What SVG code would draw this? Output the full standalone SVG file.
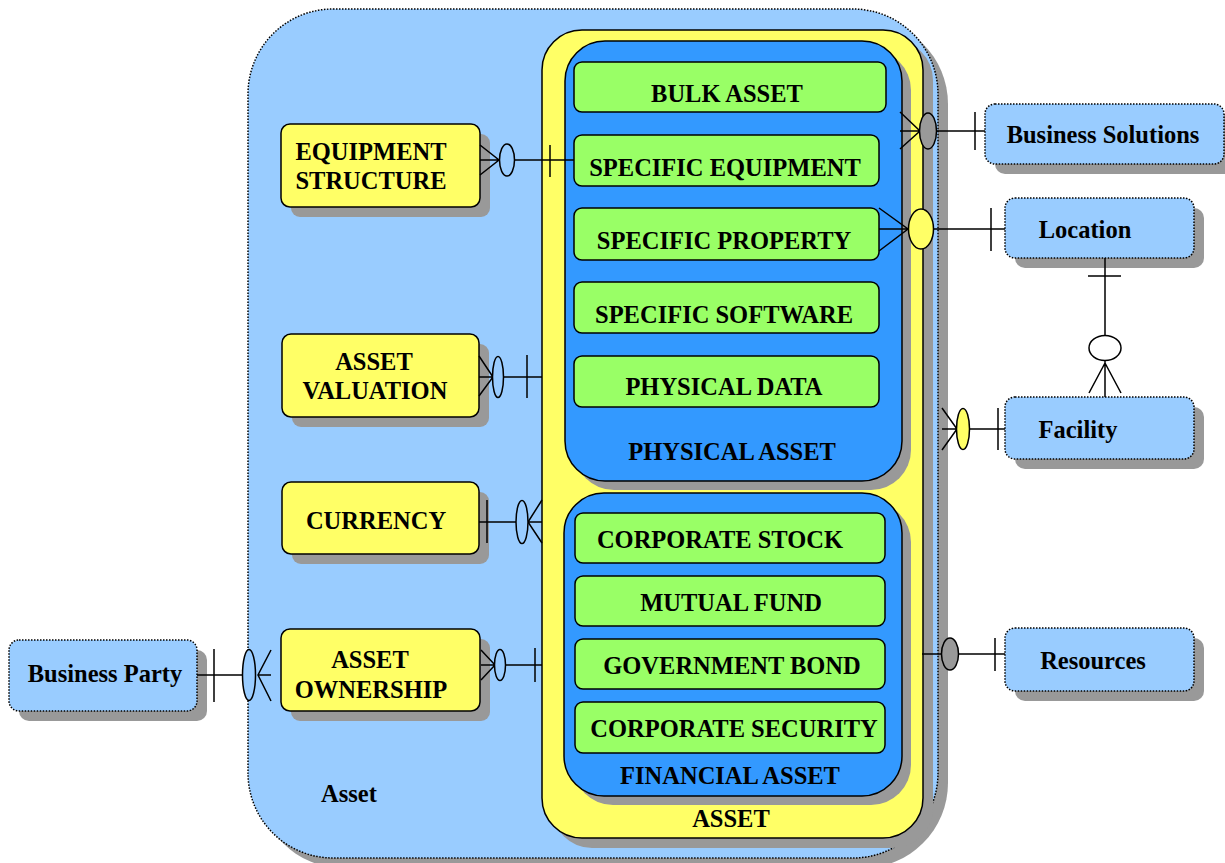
<svg xmlns="http://www.w3.org/2000/svg" width="1225" height="863" viewBox="0 0 1225 863">
<style>
text{font-family:"Liberation Serif","Times New Roman",serif;font-weight:bold;font-size:24.5px;fill:#000;text-anchor:middle}
.shadow{fill:#999999;stroke:none}
.ext{fill:#99CCFF;stroke:#000;stroke-width:1.5;stroke-dasharray:1.5 1.5}
.yel{fill:#FFFF66;stroke:#000;stroke-width:1.5}
.blu{fill:#3399FF;stroke:#000;stroke-width:1.5}
.grn{fill:#99FF66;stroke:#000;stroke-width:1.5}
.ln{fill:none;stroke:#000;stroke-width:1.5}
.oe{fill:#99CCFF;stroke:#000;stroke-width:1.5}
.ge{fill:#999999;stroke:#000;stroke-width:1.5}
.ye{fill:#FFFF66;stroke:#000;stroke-width:1.5}
.we{fill:#FFFFFF;stroke:#000;stroke-width:1.5}
</style>
<rect width="1225" height="863" fill="#FFFFFF"/>

<g id="asset-outer">
<rect class="shadow" x="258" y="19" width="690" height="849" rx="85"/>
<rect class="ext" x="248" y="9" width="690" height="849" rx="85"/>
<text x="349" y="802">Asset</text>
</g>

<g id="asset">
<rect class="shadow" x="552" y="40" width="381" height="808" rx="40"/>
<rect class="yel" x="542" y="30" width="381" height="808" rx="40"/>
<text x="731" y="827">ASSET</text>
</g>

<g id="physical-asset">
<rect class="shadow" x="574" y="50" width="337" height="440" rx="40"/>
<rect class="blu" x="565" y="41" width="337" height="440" rx="40"/>
<text x="732" y="460">PHYSICAL ASSET</text>
</g>

<g id="financial-asset">
<rect class="shadow" x="573" y="502" width="338" height="303" rx="40"/>
<rect class="blu" x="564" y="493" width="338" height="303" rx="40"/>
<text x="730" y="784">FINANCIAL ASSET</text>
</g>

<g id="bulk-asset"><rect class="grn" x="574" y="62" width="312" height="50" rx="8"/><text x="727" y="102">BULK ASSET</text></g>
<g id="specific-equipment"><rect class="grn" x="574" y="135" width="305" height="51" rx="8"/><text x="725" y="176">SPECIFIC EQUIPMENT</text></g>
<g id="specific-property"><rect class="grn" x="574" y="208" width="305" height="52" rx="8"/><text x="724" y="249">SPECIFIC PROPERTY</text></g>
<g id="specific-software"><rect class="grn" x="574" y="282" width="305" height="51" rx="8"/><text x="724" y="323">SPECIFIC SOFTWARE</text></g>
<g id="physical-data"><rect class="grn" x="574" y="356" width="305" height="51" rx="8"/><text x="724" y="395">PHYSICAL DATA</text></g>

<g id="corporate-stock"><rect class="grn" x="575" y="513" width="310" height="50" rx="8"/><text x="720" y="548">CORPORATE STOCK</text></g>
<g id="mutual-fund"><rect class="grn" x="575" y="576" width="310" height="50" rx="8"/><text x="731" y="611">MUTUAL FUND</text></g>
<g id="government-bond"><rect class="grn" x="575" y="639" width="310" height="50" rx="8"/><text x="732" y="674">GOVERNMENT BOND</text></g>
<g id="corporate-security"><rect class="grn" x="575" y="702" width="310" height="51" rx="8"/><text x="734" y="737">CORPORATE SECURITY</text></g>

<g id="equipment-structure">
<rect class="shadow" x="291" y="134" width="199" height="83" rx="9"/>
<rect class="yel" x="281" y="124" width="199" height="83" rx="9"/>
<text x="371" y="160">EQUIPMENT</text><text x="371" y="189">STRUCTURE</text>
</g>
<g id="asset-valuation">
<rect class="shadow" x="292" y="344" width="197" height="83" rx="9"/>
<rect class="yel" x="282" y="334" width="197" height="83" rx="9"/>
<text x="374" y="370">ASSET</text><text x="375" y="399">VALUATION</text>
</g>
<g id="currency">
<rect class="shadow" x="292" y="492" width="197" height="72" rx="9"/>
<rect class="yel" x="282" y="482" width="197" height="72" rx="9"/>
<text x="376" y="529">CURRENCY</text>
</g>
<g id="asset-ownership">
<rect class="shadow" x="291" y="639" width="199" height="82" rx="9"/>
<rect class="yel" x="281" y="629" width="199" height="82" rx="9"/>
<text x="370" y="668">ASSET</text><text x="371" y="698">OWNERSHIP</text>
</g>

<g id="business-party">
<rect class="shadow" x="19" y="650" width="188" height="71" rx="10"/>
<rect class="ext" x="9" y="640" width="188" height="71" rx="10"/>
<text x="105" y="682">Business Party</text>
</g>
<g id="business-solutions">
<rect class="shadow" x="995" y="114" width="239" height="60" rx="10"/>
<rect class="ext" x="985" y="104" width="239" height="60" rx="10"/>
<text x="1103" y="143">Business Solutions</text>
</g>
<g id="location">
<rect class="shadow" x="1015" y="208" width="189" height="60" rx="10"/>
<rect class="ext" x="1005" y="198" width="189" height="60" rx="10"/>
<text x="1085" y="238">Location</text>
</g>
<g id="facility">
<rect class="shadow" x="1015" y="407" width="189" height="62" rx="10"/>
<rect class="ext" x="1005" y="397" width="189" height="62" rx="10"/>
<text x="1078" y="438">Facility</text>
</g>
<g id="resources">
<rect class="shadow" x="1015" y="638" width="189" height="63" rx="10"/>
<rect class="ext" x="1005" y="628" width="189" height="63" rx="10"/>
<text x="1093" y="669">Resources</text>
</g>

<g id="connectors">
<path class="ln" d="M480 145 L499 160 L480 175 M480 160 L499 160 M515 160 L574 160 M550 145 L550 177"/>
<ellipse class="oe" cx="507" cy="160" rx="7.5" ry="16"/>
<path class="ln" d="M479 356 L493 377 L479 396 M479 377 L493 377 M504 377 L542 377 M527 355 L527 398"/>
<ellipse class="oe" cx="498" cy="377" rx="5.5" ry="20.5"/>
<path class="ln" d="M479 522 L516 522 M487 500 L487 543 M542 500 L528 522 L542 543 M528 522 L542 522"/>
<ellipse class="oe" cx="522" cy="522" rx="6" ry="21.5"/>
<path class="ln" d="M481 650 L495 665 L481 680 M481 665 L495 665 M506 665 L542 665 M535 648 L535 682"/>
<ellipse class="oe" cx="500" cy="665" rx="5.5" ry="15.5"/>
<path class="ln" d="M197 675 L243 675 M214 649 L214 702 M271 650 L258 675 L271 701 M258 675 L271 675"/>
<ellipse class="oe" cx="249" cy="675" rx="6.5" ry="25.5"/>
<path class="ln" d="M900 112 L920 131 L900 149 M900 131 L920 131 M937 131 L985 131 M975 112 L975 150"/>
<ellipse class="ge" cx="928" cy="131" rx="8.5" ry="18"/>
<path class="ln" d="M879 208 L908 229 L879 251 M879 229 L908 229 M934 229 L1005 229 M991 208 L991 251"/>
<ellipse class="ye" cx="921" cy="229" rx="12.5" ry="20"/>
<path class="ln" d="M1105 258 L1105 336 M1088 276 L1121 276 M1105 361 L1105 397 M1089 393 L1105 363 L1121 393"/>
<ellipse class="we" cx="1105" cy="348" rx="16" ry="12.5"/>
<path class="ln" d="M942 408 L957 429 L942 450 M942 429 L957 429 M970 429 L1005 429 M998 408 L998 450"/>
<ellipse class="ye" cx="963" cy="429" rx="6.5" ry="20.5"/>
<path class="ln" d="M922 654 L941 654 M959 654 L1005 654 M995 638 L995 671"/>
<ellipse class="ge" cx="950" cy="654" rx="8.5" ry="16"/>
</g>
</svg>
